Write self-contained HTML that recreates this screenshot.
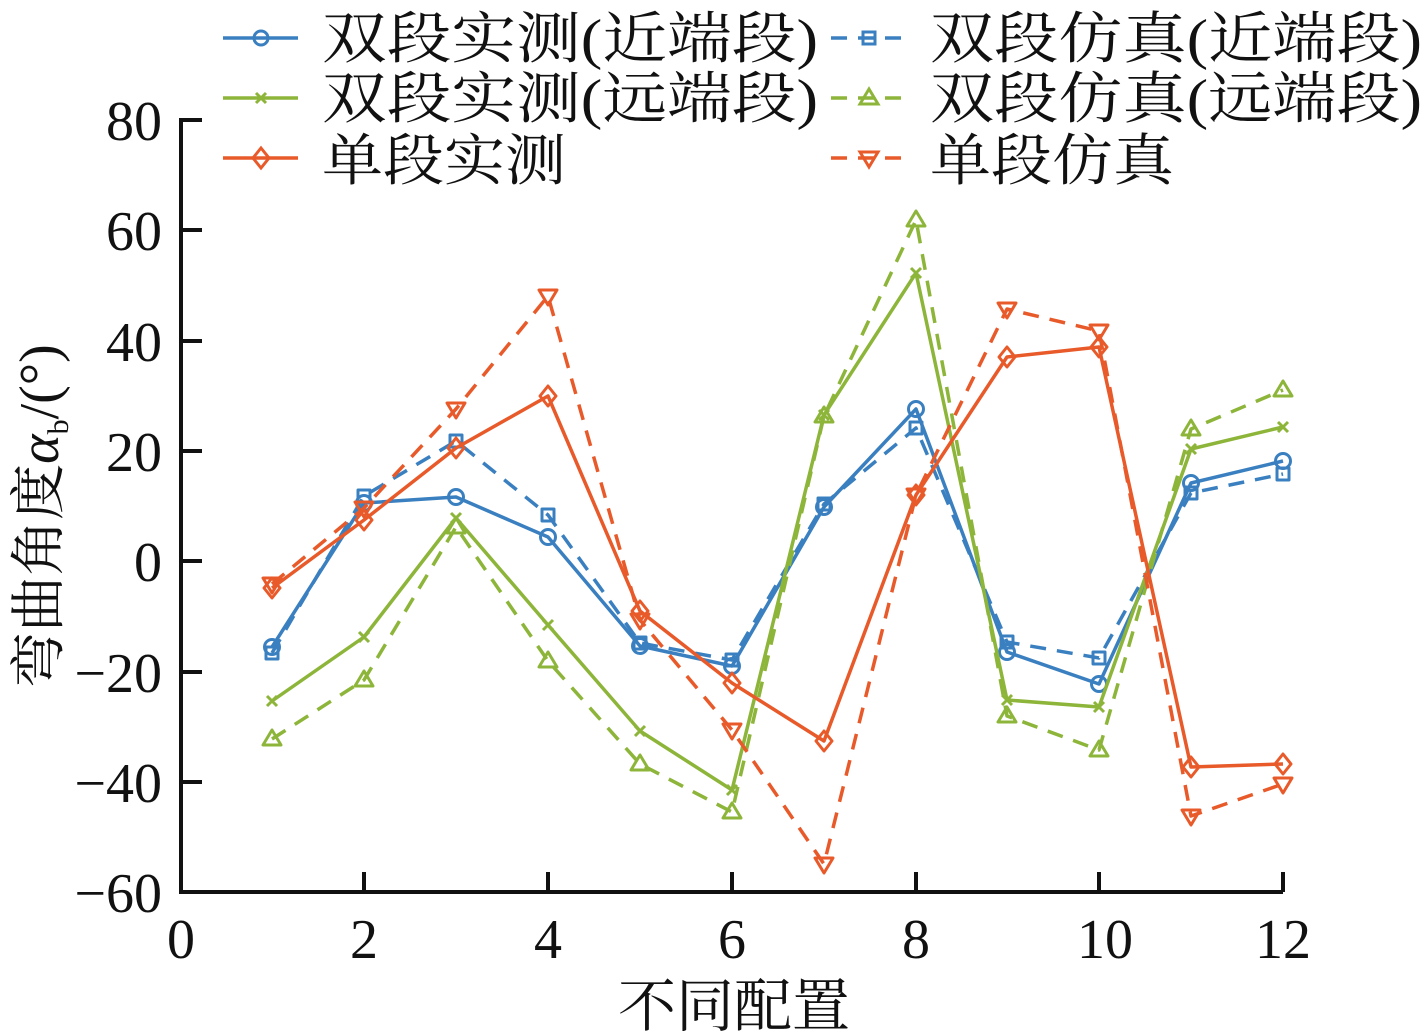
<!DOCTYPE html>
<html><head><meta charset="utf-8"><style>
html,body{margin:0;padding:0;background:#fff;}
svg{display:block;}
text{font-family:"Liberation Serif","Noto Serif CJK SC",serif;fill:#111;}
</style></head><body>
<svg width="1424" height="1034" viewBox="0 0 1424 1034" xmlns="http://www.w3.org/2000/svg">
<g stroke="#111" stroke-width="4" fill="none">
<path d="M181,118 V892 H1283"/>
<path d="M181,120 H202 M181,230 H202 M181,341 H202 M181,451 H202 M181,561 H202 M181,672 H202 M181,782 H202"/>
<path d="M364,892 V872 M548,892 V872 M732,892 V872 M916,892 V872 M1099,892 V872 M1283,892 V872"/>
</g>
<g font-size="56" text-anchor="end">
<text x="162" y="140">80</text>
<text x="162" y="250">60</text>
<text x="162" y="361">40</text>
<text x="162" y="471">20</text>
<text x="162" y="581">0</text>
<text x="162" y="692">−20</text>
<text x="162" y="802">−40</text>
<text x="162" y="912">−60</text>
</g>
<g font-size="56" text-anchor="middle">
<text x="181" y="958">0</text>
<text x="364" y="958">2</text>
<text x="548" y="958">4</text>
<text x="732" y="958">6</text>
<text x="916" y="958">8</text>
<text x="1105" y="958">10</text>
<text x="1283" y="958">12</text>
<text x="734" y="1026" font-size="58">不同配置</text>
</g>
<text transform="translate(58,516) rotate(-90)" font-size="56" text-anchor="middle">弯曲角度<tspan font-style="italic">α</tspan><tspan font-size="30" dy="10">b</tspan><tspan dy="-10">/(°)</tspan></text>

<g fill="none" stroke-width="3.5" stroke-linejoin="round">
<polyline stroke="#3a80c0" stroke-dasharray="16,11" points="272,653 364,496 456,441 548,515 640,643 732,660 824,504 916,428 1007,642 1099,658 1191,493 1283,474"/>
<g stroke="#3a80c0" stroke-width="3"><rect x="266" y="647" width="12" height="12"/><rect x="358" y="490" width="12" height="12"/><rect x="450" y="435" width="12" height="12"/><rect x="542" y="509" width="12" height="12"/><rect x="634" y="637" width="12" height="12"/><rect x="726" y="654" width="12" height="12"/><rect x="818" y="498" width="12" height="12"/><rect x="910" y="422" width="12" height="12"/><rect x="1001" y="636" width="12" height="12"/><rect x="1093" y="652" width="12" height="12"/><rect x="1185" y="487" width="12" height="12"/><rect x="1277" y="468" width="12" height="12"/></g>
<polyline stroke="#3a80c0" points="272,647 364,503 456,497 548,537 640,646 732,666 824,507 916,409 1007,652 1099,684 1191,483 1283,461"/>
<g stroke="#3a80c0" stroke-width="3"><circle cx="272" cy="647" r="7.5"/><circle cx="364" cy="503" r="7.5"/><circle cx="456" cy="497" r="7.5"/><circle cx="548" cy="537" r="7.5"/><circle cx="640" cy="646" r="7.5"/><circle cx="732" cy="666" r="7.5"/><circle cx="824" cy="507" r="7.5"/><circle cx="916" cy="409" r="7.5"/><circle cx="1007" cy="652" r="7.5"/><circle cx="1099" cy="684" r="7.5"/><circle cx="1191" cy="483" r="7.5"/><circle cx="1283" cy="461" r="7.5"/></g>
<polyline stroke="#8db53a" stroke-dasharray="16,11" points="272,739 364,680 456,527 548,661 640,764 732,812 824,416 916,220 1007,716 1099,750 1191,429 1283,390"/>
<path stroke="#8db53a" stroke-width="3" d="M272,730 l-9,15 h18z M364,671 l-9,15 h18z M456,518 l-9,15 h18z M548,652 l-9,15 h18z M640,755 l-9,15 h18z M732,803 l-9,15 h18z M824,407 l-9,15 h18z M916,211 l-9,15 h18z M1007,707 l-9,15 h18z M1099,741 l-9,15 h18z M1191,420 l-9,15 h18z M1283,381 l-9,15 h18z"/>
<polyline stroke="#8db53a" points="272,701 364,637 456,518 548,625 640,731 732,790 824,415 916,273 1007,700 1099,707 1191,449 1283,427"/>
<path stroke="#8db53a" stroke-width="3" d="M267,696 l10,10 m0,-10 l-10,10 M359,632 l10,10 m0,-10 l-10,10 M451,513 l10,10 m0,-10 l-10,10 M543,620 l10,10 m0,-10 l-10,10 M635,726 l10,10 m0,-10 l-10,10 M727,785 l10,10 m0,-10 l-10,10 M819,410 l10,10 m0,-10 l-10,10 M911,268 l10,10 m0,-10 l-10,10 M1002,695 l10,10 m0,-10 l-10,10 M1094,702 l10,10 m0,-10 l-10,10 M1186,444 l10,10 m0,-10 l-10,10 M1278,422 l10,10 m0,-10 l-10,10"/>
<polyline stroke="#e85a2a" stroke-dasharray="16,11" points="272,584 364,508 456,409 548,296 640,620 732,730 824,864 916,495 1007,309 1099,331 1191,816 1283,784"/>
<path stroke="#e85a2a" stroke-width="3" d="M263,578 h18 l-9,15z M355,502 h18 l-9,15z M447,403 h18 l-9,15z M539,290 h18 l-9,15z M631,614 h18 l-9,15z M723,724 h18 l-9,15z M815,858 h18 l-9,15z M907,489 h18 l-9,15z M998,303 h18 l-9,15z M1090,325 h18 l-9,15z M1182,810 h18 l-9,15z M1274,778 h18 l-9,15z"/>
<polyline stroke="#e85a2a" points="272,588 364,520 456,448 548,396 640,611 732,683 824,741 916,495 1007,357 1099,347 1191,767 1283,764"/>
<path stroke="#e85a2a" stroke-width="3" d="M272,578 l8,10 l-8,10 l-8,-10z M364,510 l8,10 l-8,10 l-8,-10z M456,438 l8,10 l-8,10 l-8,-10z M548,386 l8,10 l-8,10 l-8,-10z M640,601 l8,10 l-8,10 l-8,-10z M732,673 l8,10 l-8,10 l-8,-10z M824,731 l8,10 l-8,10 l-8,-10z M916,485 l8,10 l-8,10 l-8,-10z M1007,347 l8,10 l-8,10 l-8,-10z M1099,337 l8,10 l-8,10 l-8,-10z M1191,757 l8,10 l-8,10 l-8,-10z M1283,754 l8,10 l-8,10 l-8,-10z"/>
</g>

<g fill="none" stroke-width="3.5">
<line x1="223" y1="38" x2="298" y2="38" stroke="#3a80c0"/><circle cx="261" cy="38" r="7" stroke="#3a80c0" stroke-width="3"/>
<line x1="223" y1="98" x2="298" y2="98" stroke="#8db53a"/><path d="M256,93 l10,10 m0,-10 l-10,10" stroke="#8db53a" stroke-width="3"/>
<line x1="223" y1="158" x2="298" y2="158" stroke="#e85a2a"/><path d="M261,148 l8,10 l-8,10 l-8,-10z" stroke="#e85a2a" stroke-width="3"/>
<line x1="831" y1="38" x2="906" y2="38" stroke="#3a80c0" stroke-dasharray="16,11"/><rect x="863" y="32" width="12" height="12" stroke="#3a80c0" stroke-width="3"/>
<line x1="831" y1="98" x2="906" y2="98" stroke="#8db53a" stroke-dasharray="16,11"/><path d="M869,89 l-9,15 h18z" stroke="#8db53a" stroke-width="3"/>
<line x1="831" y1="158" x2="906" y2="158" stroke="#e85a2a" stroke-dasharray="16,11"/><path d="M860,152 h18 l-9,15z" stroke="#e85a2a" stroke-width="3"/>
</g>
<g font-size="56">
<text x="322" y="58" textLength="496" lengthAdjust="spacingAndGlyphs">双段实测(近端段)</text>
<text x="322" y="118" textLength="496" lengthAdjust="spacingAndGlyphs">双段实测(远端段)</text>
<text x="322" y="180" textLength="244" lengthAdjust="spacingAndGlyphs">单段实测</text>
<text x="930" y="58" textLength="492" lengthAdjust="spacingAndGlyphs">双段仿真(近端段)</text>
<text x="930" y="118" textLength="492" lengthAdjust="spacingAndGlyphs">双段仿真(远端段)</text>
<text x="930" y="180" textLength="244" lengthAdjust="spacingAndGlyphs">单段仿真</text>
</g>
</svg>
</body></html>
